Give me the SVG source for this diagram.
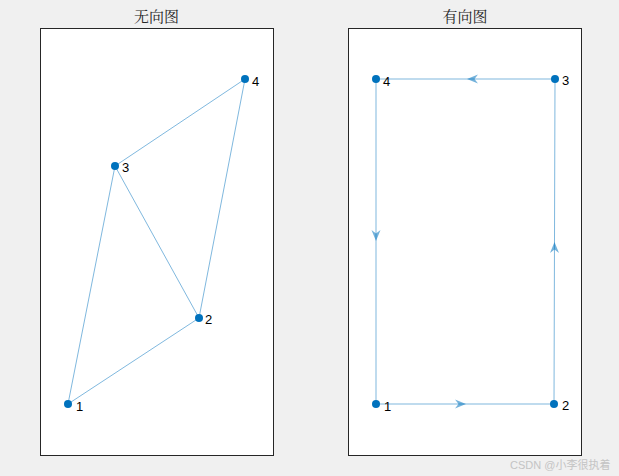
<svg xmlns="http://www.w3.org/2000/svg" xmlns:xlink="http://www.w3.org/1999/xlink" width="619" height="476" viewBox="0 0 619 476">
<style>
.ax{fill:#ffffff;stroke:#262626;stroke-width:1}
.edge{stroke:#0072BD;stroke-opacity:0.5;stroke-width:1;fill:none}
.node{fill:#0072BD}
.lbl{font-family:"Liberation Sans",Arial,sans-serif;font-size:13px;fill:#000000}
.title{font-family:"Noto Serif CJK SC","Noto Sans CJK SC",serif;font-size:15px;fill:#262626;text-anchor:middle}
.arr{fill:#0072BD;fill-opacity:0.55}
.wm{font-family:"Liberation Sans","Noto Sans CJK SC",sans-serif;font-size:11px;fill:#c4c4c4}
</style>
<defs>
<path id="ah" d="M0,0 L-11,-4.5 L-7.5,0 L-11,4.5 Z"/>
</defs>
<rect width="619" height="476" fill="#f0f0f0"/>
<g id="axes-left">
<rect class="ax" x="40.5" y="28.5" width="233" height="427"/>
<text class="title" x="156.5" y="22">无向图</text>
</g>
<g id="axes-right">
<rect class="ax" x="348.5" y="28.5" width="233" height="427"/>
<text class="title" x="465" y="22">有向图</text>
</g>
<g id="connectors">
<line class="edge" x1="68" y1="404" x2="199" y2="318"/>
<line class="edge" x1="68" y1="404" x2="115" y2="166"/>
<line class="edge" x1="115" y1="166" x2="199" y2="318"/>
<line class="edge" x1="115" y1="166" x2="245" y2="79"/>
<line class="edge" x1="199" y1="318" x2="245" y2="79"/>
<line class="edge" x1="376" y1="404" x2="554" y2="404"/>
<line class="edge" x1="554" y1="404" x2="555" y2="79"/>
<line class="edge" x1="555" y1="79" x2="376" y2="79"/>
<line class="edge" x1="376" y1="79" x2="376" y2="404"/>
<use class="arr" xlink:href="#ah" transform="translate(466,404)"/>
<use class="arr" xlink:href="#ah" transform="translate(554.5,242) rotate(-90)"/>
<use class="arr" xlink:href="#ah" transform="translate(467,79) rotate(180)"/>
<use class="arr" xlink:href="#ah" transform="translate(376,241) rotate(90)"/>
</g>
<g id="n1-left"><circle class="node" cx="68" cy="404" r="4"/><text class="lbl" x="76" y="411">1</text></g>
<g id="n2-left"><circle class="node" cx="199" cy="318" r="4"/><text class="lbl" x="205" y="324">2</text></g>
<g id="n3-left"><circle class="node" cx="115" cy="166" r="4"/><text class="lbl" x="122" y="172">3</text></g>
<g id="n4-left"><circle class="node" cx="245" cy="79" r="4"/><text class="lbl" x="252" y="86">4</text></g>
<g id="n1-right"><circle class="node" cx="376" cy="404" r="4"/><text class="lbl" x="384" y="411">1</text></g>
<g id="n2-right"><circle class="node" cx="554" cy="404" r="4"/><text class="lbl" x="562" y="410">2</text></g>
<g id="n3-right"><circle class="node" cx="555" cy="79" r="4"/><text class="lbl" x="562" y="85">3</text></g>
<g id="n4-right"><circle class="node" cx="376" cy="79" r="4"/><text class="lbl" x="383" y="86">4</text></g>
<text class="wm" x="510" y="469">CSDN @小李很执着</text>
</svg>
